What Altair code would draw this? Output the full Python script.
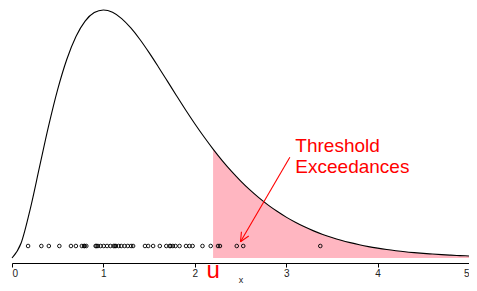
import math
import altair as alt
import pandas as pd

# ---- data ----
curve_x = [0.0, 0.1, 0.2, 0.3, 0.4, 0.5, 0.6, 0.7, 0.8, 0.9,
           1.0, 1.1, 1.2, 1.3, 1.4, 1.5, 1.6, 1.7, 1.8, 1.9,
           2.0, 2.1, 2.2, 2.3, 2.4, 2.5, 2.6, 2.7, 2.8, 2.9,
           3.0, 3.1, 3.2, 3.3, 3.4, 3.5, 3.6, 3.7, 3.8, 3.9,
           4.0, 4.1, 4.2, 4.3, 4.4, 4.5, 4.6, 4.7, 4.8, 4.9, 5.0]
curve_y = [0.0, 0.0327, 0.1073, 0.1976, 0.2876, 0.3679, 0.4337, 0.4833, 0.5169, 0.5356,
           0.5413, 0.5363, 0.5225, 0.5020, 0.4768, 0.4481, 0.4175, 0.3860, 0.3542, 0.3230,
           0.2931, 0.2646, 0.2378, 0.2127, 0.1896, 0.1685, 0.1492, 0.1318, 0.1160, 0.1019,
           0.0892, 0.0780, 0.0680, 0.0592, 0.0515, 0.0447, 0.0387, 0.0335, 0.0289, 0.0249,
           0.0215, 0.0185, 0.0159, 0.0136, 0.0117, 0.0100, 0.0086, 0.0073, 0.0062, 0.0053, 0.0045]

sample_x = [0.176, 0.321, 0.403, 0.518, 0.645, 0.699, 0.764, 0.788, 0.795, 0.813,
            0.915, 0.925, 0.940, 0.969, 1.004, 1.040, 1.077, 1.112, 1.125, 1.137,
            1.166, 1.195, 1.231, 1.267, 1.303, 1.325, 1.455, 1.490, 1.544, 1.617,
            1.688, 1.725, 1.735, 1.760, 1.789, 1.833, 1.904, 1.941, 1.976, 2.084,
            2.174, 2.254, 2.275, 2.459, 2.530, 3.373]

threshold_u = 2.2
tick_values = [0, 1, 2, 3, 4, 5]
label_lines = ["Threshold", "Exceedances"]
label_pos = (3.10, 0.2307)
arrow_start = (3.04, 0.2198)
arrow_tip = (2.50, 0.0356)
rug_y = 0.0262
u_label_y = -0.0437

# ---- layout ----
W, H = 457, 255
X_MIN, X_MAX = 0, 5
Y_MIN, Y_MAX = -0.0109, 0.5456
FONT = "Liberation Sans"
RED = "#FF0000"
PINK = "#FFB6C1"

xs = alt.Scale(domain=[X_MIN, X_MAX], nice=False, zero=False)
ys = alt.Scale(domain=[Y_MIN, Y_MAX], nice=False, zero=False)

curve = pd.DataFrame({"x": curve_x, "y": curve_y})
tail = curve[curve["x"] >= threshold_u - 1e-9]
pts = pd.DataFrame({"x": sample_x, "y": [rug_y] * len(sample_x)})

# arrow segments (shaft + head computed in pixel space)
pxx = W / (X_MAX - X_MIN)
pxy = H / (Y_MAX - Y_MIN)
tx, ty = arrow_tip[0] * pxx, -arrow_tip[1] * pxy
sx, sy = arrow_start[0] * pxx, -arrow_start[1] * pxy
dx, dy = sx - tx, sy - ty
L = math.hypot(dx, dy)
dx, dy = dx / L, dy / L
segs = [dict(x=arrow_start[0], y=arrow_start[1], x2=arrow_tip[0], y2=arrow_tip[1])]
head_len, ang = 10.0, math.radians(25)
for s in (1, -1):
    c, si = math.cos(s * ang), math.sin(s * ang)
    hx = tx + head_len * (dx * c - dy * si)
    hy = ty + head_len * (dx * si + dy * c)
    segs.append(dict(x=arrow_tip[0], y=arrow_tip[1], x2=hx / pxx, y2=-hy / pxy))
arrow_df = pd.DataFrame(segs)

xaxis = alt.Axis(values=tick_values, format="d", grid=False, domainColor="black",
                 tickColor="black", tickSize=4, labelFontSize=10, labelFont=FONT,
                 labelColor="#222222", labelPadding=1, title="x", titleFont=FONT,
                 titleFontSize=9, titleFontWeight="normal", titleY=19,
                 titleBaseline="alphabetic",
                 titleColor="#222222", domainWidth=1, tickWidth=1)

area = alt.Chart(tail).mark_area(color=PINK, opacity=1).encode(
    x=alt.X("x:Q", scale=xs, axis=xaxis),
    y=alt.Y("y:Q", scale=ys, axis=None),
    y2=alt.datum(0),
)

line = alt.Chart(curve).mark_line(color="black", strokeWidth=1.1, interpolate="monotone").encode(
    x=alt.X("x:Q", scale=xs),
    y=alt.Y("y:Q", scale=ys),
)

points = alt.Chart(pts).mark_point(shape="circle", filled=False, color="black",
                                   size=13, strokeWidth=0.9, opacity=1).encode(
    x=alt.X("x:Q", scale=xs),
    y=alt.Y("y:Q", scale=ys),
)

arrow = alt.Chart(arrow_df).mark_rule(color=RED, strokeWidth=1.1).encode(
    x=alt.X("x:Q", scale=xs), y=alt.Y("y:Q", scale=ys),
    x2="x2:Q", y2="y2:Q",
)

label = alt.Chart(pd.DataFrame({"x": [label_pos[0]], "y": [label_pos[1]],
                                "t": ["\n".join(label_lines)]})).mark_text(
    color=RED, font=FONT, fontSize=19, align="left", baseline="alphabetic",
    lineBreak="\n", lineHeight=21,
).encode(x=alt.X("x:Q", scale=xs), y=alt.Y("y:Q", scale=ys), text="t:N")

u_label = alt.Chart(pd.DataFrame({"x": [threshold_u], "y": [u_label_y], "t": ["u"]})).mark_text(
    color=RED, font=FONT, fontSize=24, align="center", baseline="alphabetic",
).encode(x=alt.X("x:Q", scale=xs), y=alt.Y("y:Q", scale=ys), text="t:N")

chart = alt.layer(area, line, points, arrow, label, u_label).properties(
    width=W, height=H,
    background="white",
    autosize=alt.AutoSizeParams(type="none"),
    padding={"left": 4, "top": 0, "right": 0, "bottom": 20},
).configure_view(stroke=None)

chart.save("out.html", embed_options={"renderer": "svg", "actions": False})
